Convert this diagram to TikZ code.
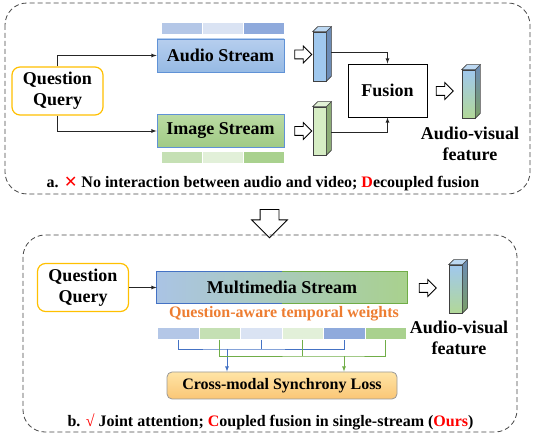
\documentclass[tikz,border=0pt]{standalone}
\usepackage{fontspec}
\setmainfont{Liberation Serif}
\newfontfamily\symfont{DejaVu Sans}
\usepackage{tikz}
\usetikzlibrary{shapes.arrows,calc}
\definecolor{qqborder}{RGB}{255,192,0}
\definecolor{strblue}{RGB}{96,146,214}
\definecolor{auTop}{RGB}{182,206,238}
\definecolor{auBot}{RGB}{150,186,228}
\definecolor{imTop}{RGB}{186,219,163}
\definecolor{imBot}{RGB}{160,202,133}
\definecolor{wA}{RGB}{180,199,231}
\definecolor{wB}{RGB}{218,227,243}
\definecolor{wC}{RGB}{143,170,220}
\definecolor{gA}{RGB}{197,224,180}
\definecolor{gB}{RGB}{226,240,217}
\definecolor{gC}{RGB}{169,209,142}
\definecolor{mmLeft}{RGB}{170,196,228}
\definecolor{lineblue}{RGB}{68,114,196}
\definecolor{linegreen}{RGB}{112,173,71}
\definecolor{wtext}{RGB}{237,125,49}
\definecolor{lossTop}{RGB}{255,228,165}
\definecolor{lossBot}{RGB}{250,198,118}
\definecolor{auFront}{RGB}{160,200,238}
\definecolor{auSide}{RGB}{108,140,182}
\definecolor{imFront}{RGB}{214,237,196}
\definecolor{imSide}{RGB}{140,172,118}
\definecolor{outFrontB}{RGB}{178,216,152}
\definecolor{outSideB}{RGB}{122,158,102}
\definecolor{panelgray}{RGB}{70,70,70}

% side and top faces of a feature cuboid
\newcommand{\cubesides}[3]{%
  \draw[cubeline,#2] (#1.south east) -- ++(5,-5) -- ($(#1.north east)+(5,-5)$) -- (#1.north east) -- cycle;
  \draw[cubeline,#3] (#1.north west) -- ++(5,-5) -- ($(#1.north east)+(5,-5)$) -- (#1.north east) -- cycle;
}

\tikzset{
  panel/.style={draw=panelgray, dash pattern=on 5pt off 3pt, line width=0.8pt, rounded corners=22pt},
  qbox/.style={draw=qqborder, line width=1.2pt, rounded corners=8pt, fill=white, align=center,
    minimum width=91pt, minimum height=48pt, inner sep=0pt, font=\fontsize{18}{21}\selectfont\bfseries},
  strbox/.style={draw=strblue, line width=0.8pt, minimum width=127pt, minimum height=33pt, inner sep=0pt,
    font=\fontsize{18}{21}\selectfont\bfseries},
  bar/.style={draw=white, line width=0.6pt, minimum height=12pt, inner sep=0pt},
  cubeline/.style={draw=black!75, line width=0.6pt},
  cube/.style={cubeline, minimum width=13pt, inner sep=0pt},
  conn/.style={draw=black!85, line width=0.8pt},
  openarrow/.style={single arrow, draw=black, line width=0.8pt, fill=white, inner xsep=0pt, inner ysep=4pt,
    minimum width=16pt, minimum height=17pt, single arrow head extend=4pt},
  lbl/.style={align=center, font=\fontsize{18}{21}\selectfont\bfseries},
  caption/.style={font=\fontsize{16}{18}\selectfont\bfseries},
}

\begin{document}
\begin{tikzpicture}[x=1pt, y=-1pt, >=latex]
\useasboundingbox (0,0) rectangle (533,435);

% panel a
\draw[panel] (5,3) rectangle (530,194);
\node[qbox] (qqa) at (57.5,91) {Question\\Query};
\node[strbox, top color=auTop, bottom color=auBot] (audio) at (220.5,55.5) {Audio Stream};
\node[strbox, top color=imTop, bottom color=imBot] (image) at (220.5,131) {Image Stream};
\foreach \c [count=\i from 0] in {wA,wB,wC}
  \node[bar, fill=\c, minimum width=41pt, anchor=north west] (au\i) at (161+41*\i,22) {};
\foreach \c [count=\i from 0] in {gA,gB,gC}
  \node[bar, fill=\c, minimum width=41pt, anchor=north west] (im\i) at (161+41*\i,151) {};
\draw[conn,->] (qqa.north) |- (audio.west);
\draw[conn,->] (qqa.south) |- (image.west);

\node[openarrow] (aarr) at (301,54.5) {};
\node[openarrow] (iarr) at (301,131) {};
\node[cube, fill=auFront, minimum height=49pt] (acube) at (319.5,56.5) {};
\cubesides{acube}{fill=auSide}{fill=auFront!70!white}
\node[cube, fill=imFront, minimum height=48pt] (icube) at (319.5,131) {};
\cubesides{icube}{fill=imSide}{fill=imFront!70!white}

\node[draw=black, line width=0.9pt, fill=white, minimum width=79pt, minimum height=53pt,
  font=\fontsize{18}{21}\selectfont\bfseries] (fusion) at (387.5,90.5) {Fusion};
\draw[conn,->] ($(acube.east)+(5,-4)$) -| (fusion.north);
\draw[conn,->] ($(icube.east)+(5,1)$) -| (fusion.south);

\node[openarrow] (farr) at (442.5,91) {};
\node[cube, top color=auFront, bottom color=outFrontB, minimum height=48pt] (ocubea) at (468.5,94) {};
\cubesides{ocubea}{top color=auSide, bottom color=outSideB}{fill=auFront!70!white}
\node[lbl] (avfa) at (470,144) {Audio-visual\\feature};

\node[caption] (capa) at (263,184) {a. {\symfont\mdseries\color{red}✕} No interaction between audio and video; {\color{red}D}ecoupled fusion};

% arrow between panels
\node[single arrow, shape border rotate=270, draw=black, line width=0.8pt, fill=white, inner sep=9pt,
  minimum width=35pt, minimum height=26pt, single arrow head extend=8.5pt] (down) at (269.5,219) {};

% panel b
\draw[panel] (23,235) rectangle (517,432);
\node[qbox] (qqb) at (83,287.5) {Question\\Query};
\node[strbox, minimum width=250pt, minimum height=31pt, left color=mmLeft, right color=gC, draw=none] (mm) at (282,287.5) {Multimedia Stream};
\draw[lineblue, line width=0.8pt] (mm.north) -- (mm.north west) -- (mm.south west) -- (mm.south);
\draw[linegreen, line width=0.8pt] (mm.north) -- (mm.north east) -- (mm.south east) -- (mm.south);
\draw[conn,->] (qqb.east) -- (mm.west);
\node[font=\fontsize{16}{18}\selectfont\bfseries, text=wtext] (weights) at (284,314) {Question-aware temporal weights};

\foreach \c [count=\i from 0] in {wA,gA,wB,gB,wC,gC}
  \node[bar, fill=\c, minimum width=41.5pt, anchor=north west] (w\i) at (157+41.5*\i,327) {};

\node[draw=black!40, line width=0.8pt, rounded corners=5pt, top color=lossTop, bottom color=lossBot,
  minimum width=230pt, minimum height=27pt, inner sep=0pt, font=\fontsize{16}{18}\selectfont\bfseries] (loss) at (282,385.5) {Cross-modal Synchrony Loss};

\coordinate (bhub) at (227,349);
\coordinate (ghub) at (344,356);
\draw[lineblue, line width=0.8pt] (w0.south) |- (bhub) -| (w4.south);
\draw[lineblue, line width=0.8pt] (w2.south) -- (w2.south |- bhub);
\draw[lineblue, line width=0.8pt, ->] (bhub) -- (bhub |- loss.north);
\draw[linegreen, line width=0.8pt] (w1.south) |- (ghub) -| (w5.south);
\draw[linegreen, line width=0.8pt] (w3.south) -- (w3.south |- ghub);
\draw[linegreen, line width=0.8pt, ->] (ghub) -- (ghub |- loss.north);

\node[openarrow] (barr) at (425.5,288) {};
\node[cube, top color=auFront, bottom color=outFrontB, minimum height=48pt] (ocubeb) at (455.5,289) {};
\cubesides{ocubeb}{top color=auSide, bottom color=outSideB}{fill=auFront!70!white}
\node[lbl] (avfb) at (459,338) {Audio-visual\\feature};

\node[caption] (capb) at (270.5,422) {b. {\color{red}√} Joint attention; {\color{red}C}oupled fusion in single-stream ({\color{red}Ours})};
\end{tikzpicture}
\end{document}
